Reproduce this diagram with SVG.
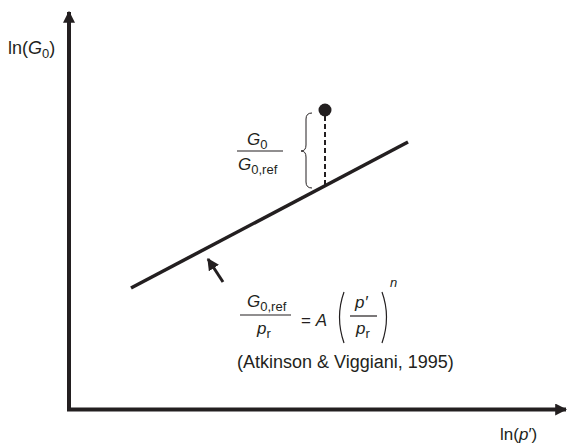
<svg xmlns="http://www.w3.org/2000/svg" width="567" height="445" viewBox="0 0 567 445">
<defs>
<marker id="ah" viewBox="0 0 10 10" refX="9" refY="5" markerWidth="3" markerHeight="3" orient="auto" markerUnits="strokeWidth"><path d="M0,0 L10,5 L0,10 z" fill="#231f20"/></marker>
<marker id="ah2" viewBox="0 0 10 10" refX="9" refY="5" markerWidth="4" markerHeight="4" orient="auto" markerUnits="strokeWidth"><path d="M0,0 L10,5 L0,10 z" fill="#231f20"/></marker>
</defs>
<style>
text{font-family:"Liberation Sans",Arial,sans-serif;fill:#231f20;font-size:17px}
.i{font-style:italic}
.s{font-size:13px;font-style:normal}
.ln{stroke:#231f20;fill:none}
</style>
<g id="axes">
<line class="ln" x1="69" y1="411" x2="69" y2="12" stroke-width="4" marker-end="url(#ah)"/>
<line class="ln" x1="67" y1="409.5" x2="566" y2="409.5" stroke-width="4" marker-end="url(#ah)"/>
</g>
<g id="labels">
<text x="8" y="54" style="font-size:18px">ln(<tspan class="i">G</tspan><tspan class="s" dy="4">0</tspan><tspan dy="-4">)</tspan></text>
<text x="500" y="440">ln(<tspan class="i">p</tspan>′)</text>
</g>
<g id="line">
<line class="ln" x1="131" y1="288" x2="408" y2="142" stroke-width="3.5"/>
</g>
<g id="point">
<circle cx="325" cy="110" r="6.5" fill="#231f20"/>
<line class="ln" x1="325" y1="116" x2="325" y2="186" stroke-width="2" stroke-dasharray="5,3"/>
<path class="ln" stroke-width="1" d="M312,113 Q306,113 306,119 L306,145 Q306,151 301,151 Q306,151 306,157 L306,182 Q306,188 312,188"/>
</g>
<g id="ratio">
<text class="i" x="247" y="145">G<tspan class="s" dy="4">0</tspan></text>
<line class="ln" x1="237" y1="151" x2="283" y2="151" stroke-width="1.2"/>
<text class="i" x="238" y="170">G<tspan class="s" dy="4">0,ref</tspan></text>
</g>
<g id="pointer">
<line class="ln" x1="223" y1="282" x2="208" y2="259" stroke-width="3" marker-end="url(#ah2)"/>
</g>
<g id="equation">
<text class="i" x="247" y="307">G<tspan class="s" dy="4">0,ref</tspan></text>
<line class="ln" x1="240" y1="315" x2="291" y2="315" stroke-width="1.2"/>
<text class="i" x="257" y="334">p<tspan class="s" dy="4">r</tspan></text>
<text x="301" y="326">= <tspan class="i">A</tspan></text>
<path class="ln" stroke-width="1.2" d="M344,292 Q335,317 344,343"/>
<path class="ln" stroke-width="1.2" d="M382,292 Q391,317 382,343"/>
<text class="i" x="355" y="308">p′</text>
<line class="ln" x1="350" y1="316" x2="377" y2="316" stroke-width="1.2"/>
<text class="i" x="356" y="334">p<tspan class="s" dy="4">r</tspan></text>
<text class="i" x="390" y="287" style="font-size:13px">n</text>
<text x="237" y="368" style="font-size:18px">(Atkinson &amp; Viggiani, 1995)</text>
</g>
</svg>
